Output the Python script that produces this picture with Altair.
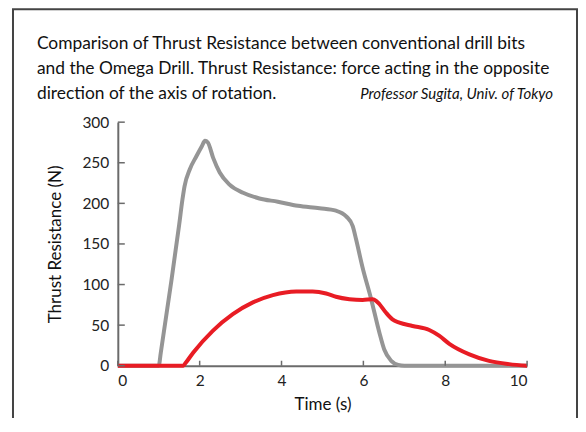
import altair as alt
import pandas as pd

# ---- data ----
gray_t = [0, 1.0, 1.05, 1.31, 1.5, 1.58, 1.63, 1.76, 1.92, 2.05, 2.13, 2.20, 2.33, 2.49, 2.73, 3.06, 3.46, 3.91,
          4.4, 4.93, 5.33, 5.58, 5.74, 5.82, 5.98, 6.19, 6.39, 6.51, 6.68, 6.85, 7.0, 10]
gray_v = [0, 0, 16, 105, 174, 205, 221, 242, 258, 270, 277, 275, 256, 238, 223, 213, 206, 202,
          197, 194, 191, 184, 172, 156, 121, 82, 41, 20, 6, 1, 0, 0]

red_t = [0, 1.6, 1.65, 1.84, 2.32, 2.81, 3.30, 3.79, 4.36, 4.76, 5.09, 5.33, 5.66, 5.98, 6.23, 6.31, 6.39,
         6.55, 6.71, 6.88, 7.2, 7.61, 7.85, 8.10, 8.59, 9.07, 9.56, 10]
red_v = [0, 0, 3, 16, 43, 63.5, 78, 87, 91.4, 91.4, 89, 85, 82, 81, 82, 80, 76,
         65.5, 57, 53, 49, 44, 37, 27, 14, 6, 2, 0]

x_ticks = [0, 2, 4, 6, 8, 10]
y_ticks = [0, 50, 100, 150, 200, 250, 300]

title_lines = [
    "Comparison of  Thrust Resistance between conventional drill bits",
    "and the Omega Drill. Thrust Resistance: force acting in the opposite",
    "direction of the axis of rotation.",
]
credit = "Professor Sugita, Univ. of Tokyo"

FONT = "Lato"
W, H = 410, 244

gray_df = pd.DataFrame({"t": gray_t, "v": gray_v})
red_df = pd.DataFrame({"t": red_t, "v": red_v})
xt_df = pd.DataFrame({"t": x_ticks})
yt_df = pd.DataFrame({"v": y_ticks})

xscale = alt.Scale(domain=[0, 10], nice=False)
yscale = alt.Scale(domain=[0, 300], nice=False)

x_axis = alt.Axis(values=x_ticks, title="Time (s)", ticks=False, grid=False,
                  labelPadding=8, titlePadding=7)
y_axis = alt.Axis(values=y_ticks, title="Thrust Resistance (N)", ticks=False, grid=False,
                  labelPadding=9, titlePadding=17)

gray_line = alt.Chart(gray_df).mark_line(color="#959595", strokeWidth=4, interpolate="monotone").encode(
    x=alt.X("t:Q", scale=xscale, axis=x_axis),
    y=alt.Y("v:Q", scale=yscale, axis=y_axis),
)
red_line = alt.Chart(red_df).mark_line(color="#e81c24", strokeWidth=4, interpolate="monotone").encode(
    x=alt.X("t:Q", scale=xscale),
    y=alt.Y("v:Q", scale=yscale),
)

xticks = alt.Chart(xt_df).mark_rule(color="#6b6b6b", strokeWidth=1.5).encode(
    x=alt.X("t:Q", scale=xscale), y=alt.value(H), y2=alt.value(H - 5)
)
yticks = alt.Chart(yt_df).mark_rule(color="#6b6b6b", strokeWidth=1.5).encode(
    y=alt.Y("v:Q", scale=yscale), x=alt.value(0), x2=alt.value(7)
)

one = pd.DataFrame({"k": [0]})
frame = alt.Chart(one).mark_rect(fill=None, stroke="#444444", strokeWidth=2).encode(
    x=alt.value(-105), x2=alt.value(460), y=alt.value(-113), y2=alt.value(340)
)

title_marks = []
for i, line in enumerate(title_lines):
    title_marks.append(
        alt.Chart(one).mark_text(align="left", baseline="alphabetic", font=FONT, fontSize=17.4,
                                 color="#111111", text=line).encode(
            x=alt.value(-81), y=alt.value(-73 + 25 * i)
        )
    )
credit_mark = alt.Chart(one).mark_text(align="right", baseline="alphabetic", font=FONT, fontSize=15,
                                       fontStyle="italic", color="#111111", text=credit).encode(
    x=alt.value(436), y=alt.value(-23)
)

chart = alt.layer(frame, gray_line, red_line, xticks, yticks, *title_marks, credit_mark).properties(
    width=W, height=H,
    autosize=alt.AutoSizeParams(type="none"),
    padding={"left": 110, "top": 114, "right": 51, "bottom": 52},
).configure_view(stroke=None).configure_axis(
    domainColor="#6b6b6b", domainWidth=2, labelFont=FONT, titleFont=FONT,
    labelFontSize=15.5, titleFontSize=17, labelColor="#222222", titleColor="#111111",
    titleFontWeight="normal",
)

chart.save("out.html", embed_options={"renderer": "svg", "actions": False})
